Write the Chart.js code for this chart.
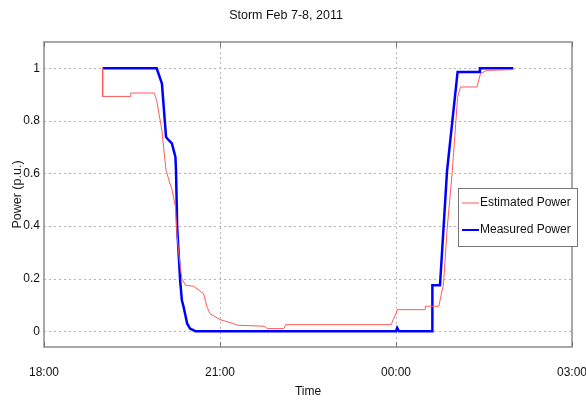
<!DOCTYPE html>
<html>
<head>
<meta charset="utf-8">
<script src="https://cdn.jsdelivr.net/npm/chart.js@4/dist/chart.umd.min.js"></script>
<style>
  html, body { margin: 0; padding: 0; background: #fff; }
  #wrap { width: 586px; height: 404px; }
</style>
</head>
<body>
<div id="wrap"><canvas id="stormChart" width="586" height="404"></canvas></div>
<script>
// time in hours after midnight of Feb 7 (24 = 00:00 on Feb 8)
const estTime = [19.0, 19.0, 19.48, 19.48, 19.88, 19.92, 20.01, 20.08, 20.15, 20.18, 20.24, 20.27, 20.31, 20.35, 20.41, 20.55, 20.72, 20.78, 20.83, 21.0, 21.14, 21.23, 21.29, 21.75, 21.81, 22.09, 22.12, 23.92, 23.95, 24.0, 24.02, 24.5, 24.5, 24.73, 24.81, 24.87, 24.96, 25.05, 25.1, 25.38, 25.44, 25.55, 26.0];
const estPower = [1.0, 0.893, 0.893, 0.906, 0.906, 0.878, 0.764, 0.612, 0.56, 0.54, 0.473, 0.358, 0.27, 0.2, 0.175, 0.171, 0.143, 0.092, 0.067, 0.044, 0.035, 0.029, 0.023, 0.019, 0.01, 0.01, 0.025, 0.025, 0.044, 0.067, 0.082, 0.082, 0.095, 0.095, 0.18, 0.384, 0.61, 0.89, 0.929, 0.929, 0.98, 0.992, 0.995];

const measTime = [19.0, 19.92, 20.01, 20.08, 20.1, 20.18, 20.24, 20.25, 20.27, 20.32, 20.35, 20.38, 20.44, 20.49, 20.58, 24.0, 24.02, 24.05, 24.62, 24.62, 24.75, 24.87, 25.05, 25.43, 25.43, 26.0];
const measPower = [1.0, 1.0, 0.942, 0.739, 0.733, 0.714, 0.663, 0.612, 0.397, 0.194, 0.118, 0.092, 0.029, 0.01, 0.0, 0.0, 0.013, 0.0, 0.0, 0.175, 0.175, 0.61, 0.986, 0.986, 1.0, 1.0];

const xTicks = [18, 21, 24, 27];
const xTickLabels = ['18:00', '21:00', '00:00', '03:00'];
const yTicks = [0, 0.2, 0.4, 0.6, 0.8, 1];

const seriesNames = ['Estimated Power', 'Measured Power'];
const seriesColors = ['rgb(255, 90, 90)', 'rgb(0, 0, 255)'];

const FONT = '"Liberation Sans Narrow", "Liberation Sans", Arial, sans-serif';

function toPoints(xs, ys) {
    return xs.map((x, i) => ({ x: x, y: ys[i] }));
}

// dotted grid, kept inside the plot area
const gridPlugin = {
    id: 'dottedGrid',
    beforeDatasetsDraw(chart) {
        const c = chart.ctx;
        const a = chart.chartArea;
        const sx = chart.scales.x, sy = chart.scales.y;
        c.save();
        c.strokeStyle = '#b4b4b4';
        c.lineWidth = 1;
        c.setLineDash([2, 3]);
        yTicks.forEach(v => {
            const py = Math.round(sy.getPixelForValue(v)) + 0.5;
            c.beginPath();
            c.moveTo(a.left, py);
            c.lineTo(a.right, py);
            c.stroke();
        });
        xTicks.slice(1, -1).forEach(v => {
            const px = Math.round(sx.getPixelForValue(v)) + 0.5;
            c.beginPath();
            c.moveTo(px, a.top);
            c.lineTo(px, a.bottom);
            c.stroke();
        });
        c.restore();
    }
};

// frame around plot + legend box inside the axes
const framePlugin = {
    id: 'frame',
    afterDraw(chart) {
        const c = chart.ctx;
        const a = chart.chartArea;
        c.save();
        c.strokeStyle = '#8c8c8c';
        c.lineWidth = 1.5;
        c.strokeRect(a.left, a.top, a.right - a.left, a.bottom - a.top);

        // little tick marks on the time axis
        c.strokeStyle = '#777';
        c.lineWidth = 1;
        xTicks.forEach(t => {
            const px = Math.round(chart.scales.x.getPixelForValue(t)) + 0.5;
            c.beginPath();
            c.moveTo(px, a.bottom);
            c.lineTo(px, a.bottom - 5);
            c.moveTo(px, a.top);
            c.lineTo(px, a.top + 5);
            c.stroke();
        });

        // legend
        const bx = 458, by = 188, bw = 119, bh = 58;
        c.fillStyle = '#fff';
        c.fillRect(bx, by, bw, bh);
        c.strokeStyle = '#777';
        c.lineWidth = 1;
        c.strokeRect(bx + 0.5, by + 0.5, bw, bh);
        c.font = '12px ' + FONT;
        c.textBaseline = 'middle';
        c.textAlign = 'left';
        seriesNames.forEach((name, i) => {
            const ly = by + 15 + i * 27;
            c.strokeStyle = seriesColors[i];
            c.lineWidth = i === 1 ? 2 : 1;
            c.beginPath();
            c.moveTo(bx + 4, ly);
            c.lineTo(bx + 21, ly);
            c.stroke();
            c.fillStyle = '#111';
            c.fillText(name, bx + 22, ly);
        });
        c.restore();
    }
};

const ctx = document.getElementById('stormChart').getContext('2d');
const stormChart = new Chart(ctx, {
    type: 'line',
    data: {
        datasets: [
            {
                label: seriesNames[0],
                data: toPoints(estTime, estPower),
                borderColor: seriesColors[0],
                borderWidth: 1,
                pointRadius: 0,
                tension: 0
            },
            {
                label: seriesNames[1],
                data: toPoints(measTime, measPower),
                borderColor: seriesColors[1],
                borderWidth: 2.5,
                pointRadius: 0,
                tension: 0
            }
        ]
    },
    options: {
        responsive: false,
        animation: false,
        layout: { padding: { left: 0, right: 14, top: 0, bottom: 0 } },
        plugins: {
            legend: { display: false },
            tooltip: { enabled: false },
            title: {
                display: true,
                text: 'Storm Feb 7-8, 2011',
                color: '#111',
                font: { family: FONT, size: 12.5, weight: 'normal' },
                padding: { top: 8, bottom: 19 }
            }
        },
        scales: {
            x: {
                type: 'linear',
                min: 18,
                max: 27,
                afterBuildTicks: scale => {
                    scale.ticks = xTicks.map(v => ({ value: v }));
                },
                afterFit: scale => {
                    scale.height = 57;
                    scale.paddingLeft = 0;
                    scale.paddingRight = 0;
                },
                ticks: {
                    color: '#111',
                    font: { family: FONT, size: 12 },
                    padding: 18,
                    maxRotation: 0,
                    callback: v => xTickLabels[xTicks.indexOf(v)] || ''
                },
                grid: { display: false, drawTicks: false },
                border: { display: false },
                title: {
                    display: true,
                    text: 'Time',
                    color: '#111',
                    font: { family: FONT, size: 12 },
                    padding: { top: 0, bottom: 5 }
                }
            },
            y: {
                min: -0.06,
                max: 1.1,
                afterBuildTicks: scale => {
                    scale.ticks = yTicks.map(v => ({ value: v }));
                },
                afterFit: scale => {
                    scale.width = 44;
                    scale.paddingTop = 0;
                    scale.paddingBottom = 0;
                },
                ticks: {
                    color: '#111',
                    font: { family: FONT, size: 12 },
                    padding: 4,
                    callback: v => String(Number(v.toFixed(1)))
                },
                grid: { display: false, drawTicks: false },
                border: { display: false },
                title: {
                    display: true,
                    text: 'Power (p.u.)',
                    color: '#222',
                    font: { family: 'Arial, "Liberation Sans", sans-serif', size: 12.5 },
                    padding: { top: 10, bottom: 0 }
                }
            }
        }
    },
    plugins: [gridPlugin, framePlugin]
});
</script>
</body>
</html>
